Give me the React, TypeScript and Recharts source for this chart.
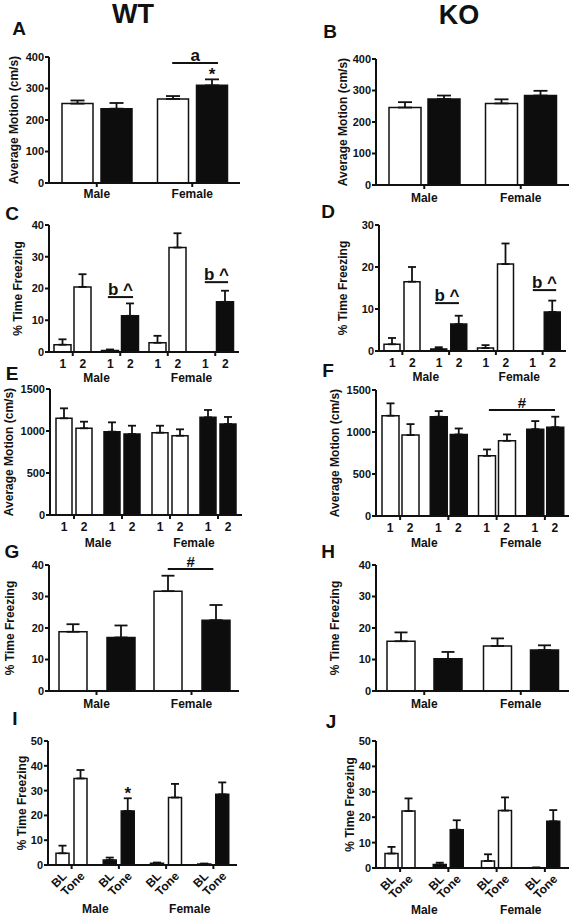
import React from "react";
import { BarChart, Bar, XAxis, YAxis, ErrorBar, Cell, LabelList, ReferenceLine } from "recharts";

const FONT = '"Liberation Sans", Arial, sans-serif';
const INK = "#111111";
const DARK = "#0d0d0d";

const sexes = ["Male", "Female"];
// 4-group panels: male open, male filled, female open, female filled
const quadGroups = ["Male open", "Male filled", "Female open", "Female filled"];
const quadColors = ["#ffffff", DARK, "#ffffff", DARK];
const sessionNames = ["1", "2"];
const phaseNames = ["BL", "Tone"];

// A - WT average motion
const aOpen = [252, 267];
const aOpenErr = [10, 9];
const aFilled = [236, 310];
const aFilledErr = [18, 19];
const aMarks = ["", "*"];

// B - KO average motion
const bOpen = [246, 259];
const bOpenErr = [17, 13];
const bFilled = [273, 284];
const bFilledErr = [11, 15];

// C - WT % freezing, sessions 1 / 2
const cFirst = [2.3, 0.5, 2.9, 0];
const cFirstErr = [1.7, 0.3, 2.2, 0];
const cSecond = [20.5, 11.4, 32.9, 15.8];
const cSecondErr = [4.0, 3.9, 4.5, 3.5];

// D - KO % freezing, sessions 1 / 2
const dFirst = [1.6, 0.5, 0.7, 0];
const dFirstErr = [1.5, 0.4, 0.7, 0];
const dSecond = [16.5, 6.4, 20.7, 9.3];
const dSecondErr = [3.5, 2.0, 4.9, 2.7];

// E - WT average motion, sessions 1 / 2
const eFirst = [1151, 992, 980, 1163];
const eFirstErr = [119, 111, 83, 87];
const eSecond = [1032, 964, 944, 1083];
const eSecondErr = [79, 99, 76, 84];

// F - KO average motion, sessions 1 / 2
const fFirst = [1194, 1182, 716, 1034];
const fFirstErr = [147, 67, 76, 96];
const fSecond = [963, 971, 895, 1058];
const fSecondErr = [131, 71, 76, 124];

// G - WT % freezing
const gOpen = [18.8, 31.7];
const gOpenErr = [2.4, 4.9];
const gFilled = [17.0, 22.5];
const gFilledErr = [3.8, 4.8];

// H - KO % freezing
const hOpen = [15.8, 14.3];
const hOpenErr = [2.8, 2.4];
const hFilled = [10.2, 13.0];
const hFilledErr = [2.2, 1.5];

// I - WT % freezing, baseline / tone
const iBaseline = [4.7, 2.0, 0.7, 0.4];
const iBaselineErr = [3.1, 1.0, 0.3, 0.2];
const iTone = [34.9, 21.8, 27.2, 28.5];
const iToneErr = [3.4, 5.1, 5.5, 4.8];
const iToneMarks = ["", "*", "", ""];

// J - KO % freezing, baseline / tone
const jBaseline = [5.7, 1.4, 2.8, 0.1];
const jBaselineErr = [2.6, 0.7, 2.6, 0.1];
const jTone = [22.4, 15.1, 22.6, 18.4];
const jToneErr = [5.0, 3.7, 5.2, 4.4];

const motionTicks = [0, 100, 200, 300, 400];
const freeze40Ticks = [0, 10, 20, 30, 40];
const freeze30Ticks = [0, 10, 20, 30];
const speedTicks = [0, 500, 1000, 1500];
const freeze50Ticks = [0, 10, 20, 30, 40, 50];

// significance bars; x runs in group units along the sex axis
type Note = { from: number; to: number; y: number; text: string };
const aNotes: Note[] = [{ from: 1.29, to: 1.77, y: 381, text: "a" }];
const cNotes: Note[] = [
  { from: 1.24, to: 1.77, y: 17.3, text: "b ^" },
  { from: 3.28, to: 3.77, y: 22, text: "b ^" },
];
const dNotes: Note[] = [
  { from: 1.2, to: 1.71, y: 11.4, text: "b ^" },
  { from: 3.29, to: 3.79, y: 14.5, text: "b ^" },
];
const fNotes: Note[] = [{ from: 2.34, to: 3.71, y: 1261, text: "#" }];
const gNotes: Note[] = [{ from: 1.25, to: 1.73, y: 38.7, text: "#" }];

const pairRows = (open: number[], openErr: number[], filled: number[], filledErr: number[], marks: string[] = []) =>
  sexes.map((name, i) => ({
    name,
    pos: i + 0.5,
    a: open[i],
    aErr: [0, openErr[i]],
    b: filled[i],
    bErr: [0, filledErr[i]],
    bMark: marks[i] || "",
  }));

const quadRows = (first: number[], firstErr: number[], second: number[], secondErr: number[], marks: string[] = []) =>
  quadGroups.map((name, i) => ({
    name,
    pos: i + 0.5,
    color: quadColors[i],
    a: first[i],
    aErr: [0, firstErr[i]],
    b: second[i],
    bErr: [0, secondErr[i]],
    bMark: marks[i] || "",
  }));

const boxOf = (lp: any) => {
  const vb = lp.viewBox && lp.viewBox.width !== undefined ? lp.viewBox : lp;
  return { x: Number(vb.x), y: Number(vb.y), w: Number(vb.width), h: Number(vb.height) };
};

const PAD_TOP = 32;
const PAD_RIGHT = 4;
const GRP_H = 20;

type PanelProps = {
  left: number;
  axisX: number;
  top: number;
  bottom: number;
  right: number;
  yMax: number;
  ticks: number[];
  yLabel: string;
  yLabelX: number;
  rows: any[];
  quad?: boolean;
  sub?: string[];
  rotated?: boolean;
  barSize: number;
  barGap: number;
  cap: number;
  catHeight: number;
  tickGap: number;
  notes?: Note[];
};

function Panel(p: PanelProps) {
  const groupsN = p.quad ? 4 : 2;
  const grpH = p.quad ? GRP_H : 0;
  const width = p.right - p.left + PAD_RIGHT;
  const height = p.bottom - p.top + PAD_TOP + p.catHeight + grpH;
  const axisLine = { stroke: INK, strokeWidth: 2 };
  const tickText = { fill: INK, fontSize: 11, fontWeight: 700 };
  const groupText = { fill: INK, fontSize: 12, fontWeight: 700 };

  // "1 2" / "BL Tone" under each bar of a group tick
  const subTick = (tp: any) => {
    const half = (p.barSize + p.barGap) / 2;
    return (
      <g>
        {(p.sub || []).map((text, k) => {
          const cx = tp.x + (k === 0 ? -half : half);
          if (p.rotated) {
            const ax = cx + 2;
            const ay = tp.y + 2;
            return (
              <text key={k} x={ax} y={ay} textAnchor="end" dominantBaseline="central" transform={`rotate(-45 ${ax} ${ay})`} style={groupText}>
                {text}
              </text>
            );
          }
          return (
            <text key={k} x={cx} y={tp.y} dy="0.71em" textAnchor="middle" style={groupText}>
              {text}
            </text>
          );
        })}
      </g>
    );
  };

  const markLabel = (lp: any) => {
    const row = lp.value;
    if (!row || !row.bMark) return null;
    const b = boxOf(lp);
    const errPx = row.b ? (b.h * row.bErr[1]) / row.b : 0;
    return (
      <text x={b.x + b.w / 2} y={b.y - errPx + 1} textAnchor="middle" style={{ fill: INK, fontSize: 17, fontWeight: 700 }}>
        {row.bMark}
      </text>
    );
  };

  const errProps = { width: p.cap, stroke: INK, strokeWidth: 1.8, direction: "y" as const };

  return (
    <div style={{ position: "absolute", left: p.left, top: p.top - PAD_TOP }}>
      <BarChart
        width={width}
        height={height}
        data={p.rows}
        margin={{ top: PAD_TOP, right: PAD_RIGHT, left: 0, bottom: 0 }}
        barSize={p.barSize}
        barGap={p.barGap}
      >
        <XAxis
          xAxisId="cat"
          dataKey="name"
          height={p.catHeight}
          axisLine={axisLine}
          tickLine={axisLine}
          tickSize={4}
          tickMargin={p.tickGap}
          interval={0}
          tick={p.quad ? subTick : groupText}
        />
        <XAxis
          xAxisId="grp"
          dataKey="pos"
          type="number"
          domain={[0, groupsN]}
          ticks={p.quad ? [1, 3] : [1]}
          hide={!p.quad}
          height={grpH}
          axisLine={false}
          tickLine={false}
          tickSize={0}
          tickMargin={p.tickGap}
          tick={groupText}
          tickFormatter={(v: number) => sexes[Math.floor(v / 2)]}
          allowDataOverflow
        />
        <YAxis
          domain={[0, p.yMax]}
          ticks={p.ticks}
          interval={0}
          width={p.axisX - p.left}
          axisLine={axisLine}
          tickLine={axisLine}
          tickSize={4}
          tickMargin={1}
          tick={tickText}
          allowDataOverflow
          label={{
            value: p.yLabel,
            angle: -90,
            position: "insideLeft",
            offset: p.yLabelX - p.left,
            style: { textAnchor: "middle", fill: INK, fontSize: 12, fontWeight: 700 },
          }}
        />
        <Bar xAxisId="cat" dataKey="a" fill="#ffffff" stroke={INK} strokeWidth={1.5} isAnimationActive={false}>
          {p.quad && p.rows.map((r) => <Cell key={r.name} fill={r.color} />)}
          <ErrorBar dataKey="aErr" {...errProps} />
        </Bar>
        <Bar xAxisId="cat" dataKey="b" fill={DARK} stroke={INK} strokeWidth={1.5} isAnimationActive={false}>
          {p.quad && p.rows.map((r) => <Cell key={r.name} fill={r.color} />)}
          <ErrorBar dataKey="bErr" {...errProps} />
          <LabelList dataKey={(r: any) => r} content={markLabel} />
        </Bar>
        {(p.notes || []).map((n, i) => (
          <ReferenceLine
            key={i}
            xAxisId="grp"
            segment={[
              { x: n.from, y: n.y },
              { x: n.to, y: n.y },
            ]}
            stroke={INK}
            strokeWidth={2}
            ifOverflow="visible"
            label={{
              value: n.text,
              position: "top",
              offset: 2,
              fill: INK,
              fontSize: n.text === "#" ? 15 : 17,
              fontWeight: 700,
            }}
          />
        ))}
      </BarChart>
    </div>
  );
}

const tag = (text: string, x: number, y: number, size: number) => (
  <div
    key={text}
    style={{
      position: "absolute",
      left: x,
      top: y,
      transform: "translate(-50%, -50%)",
      fontSize: size,
      fontWeight: 700,
      color: INK,
      lineHeight: 1,
      whiteSpace: "nowrap",
    }}
  >
    {text}
  </div>
);

export default function App() {
  return (
    <div
      style={{
        position: "absolute",
        left: 0,
        top: 0,
        width: 573,
        height: 917,
        overflow: "hidden",
        background: "#ffffff",
        fontFamily: FONT,
      }}
    >
      <Panel left={0} axisX={49} top={57} bottom={183} right={240} yMax={400} ticks={motionTicks}
        yLabel="Average Motion (cm/s)" yLabelX={14} rows={pairRows(aOpen, aOpenErr, aFilled, aFilledErr, aMarks)}
        barSize={31} barGap={8} cap={7} catHeight={20} tickGap={2} notes={aNotes} />
      <Panel left={286} axisX={376} top={59} bottom={185} right={569} yMax={400} ticks={motionTicks}
        yLabel="Average Motion (cm/s)" yLabelX={343} rows={pairRows(bOpen, bOpenErr, bFilled, bFilledErr)}
        barSize={32} barGap={7} cap={7} catHeight={20} tickGap={4} />

      <Panel left={0} axisX={49} top={225} bottom={352} right={239} yMax={40} ticks={freeze40Ticks}
        yLabel="% Time Freezing" yLabelX={18} rows={quadRows(cFirst, cFirstErr, cSecond, cSecondErr)}
        quad sub={sessionNames} barSize={17} barGap={3} cap={4} catHeight={18} tickGap={3} notes={cNotes} />
      <Panel left={286} axisX={379} top={225} bottom={351} right={566} yMax={30} ticks={freeze30Ticks}
        yLabel="% Time Freezing" yLabelX={343} rows={quadRows(dFirst, dFirstErr, dSecond, dSecondErr)}
        quad sub={sessionNames} barSize={16} barGap={4} cap={4} catHeight={18} tickGap={3} notes={dNotes} />

      <Panel left={0} axisX={50} top={389} bottom={515} right={242} yMax={1500} ticks={speedTicks}
        yLabel="Average Motion (cm/s)" yLabelX={9} rows={quadRows(eFirst, eFirstErr, eSecond, eSecondErr)}
        quad sub={sessionNames} barSize={16} barGap={4} cap={4} catHeight={20} tickGap={3} />
      <Panel left={286} axisX={376} top={390} bottom={516} right={569} yMax={1500} ticks={speedTicks}
        yLabel="Average Motion (cm/s)" yLabelX={335} rows={quadRows(fFirst, fFirstErr, fSecond, fSecondErr)}
        quad sub={sessionNames} barSize={17} barGap={3} cap={4} catHeight={19} tickGap={3} notes={fNotes} />

      <Panel left={0} axisX={49} top={565} bottom={691} right={239} yMax={40} ticks={freeze40Ticks}
        yLabel="% Time Freezing" yLabelX={10} rows={pairRows(gOpen, gOpenErr, gFilled, gFilledErr)}
        barSize={28} barGap={20} cap={6.5} catHeight={20} tickGap={4} notes={gNotes} />
      <Panel left={286} axisX={376} top={565} bottom={691} right={569} yMax={40} ticks={freeze40Ticks}
        yLabel="% Time Freezing" yLabelX={335} rows={pairRows(hOpen, hOpenErr, hFilled, hFilledErr)}
        barSize={28} barGap={19} cap={6.5} catHeight={20} tickGap={4} />

      <Panel left={0} axisX={48} top={741} bottom={865} right={237} yMax={50} ticks={freeze50Ticks}
        yLabel="% Time Freezing" yLabelX={22} rows={quadRows(iBaseline, iBaselineErr, iTone, iToneErr, iToneMarks)}
        quad sub={phaseNames} rotated barSize={13} barGap={5} cap={4} catHeight={36} tickGap={3} />
      <Panel left={286} axisX={376} top={741} bottom={868} right={569} yMax={50} ticks={freeze50Ticks}
        yLabel="% Time Freezing" yLabelX={350} rows={quadRows(jBaseline, jBaselineErr, jTone, jToneErr)}
        quad sub={phaseNames} rotated barSize={13} barGap={4} cap={4} catHeight={34} tickGap={3} />

      {tag("WT", 133, 14, 27)}
      {tag("KO", 459, 15, 27)}
      {tag("A", 19, 28, 19)}
      {tag("B", 330, 31, 19)}
      {tag("C", 12, 213, 19)}
      {tag("D", 328, 211, 19)}
      {tag("E", 12, 373, 19)}
      {tag("F", 328, 370, 19)}
      {tag("G", 12, 551, 19)}
      {tag("H", 328, 551, 19)}
      {tag("I", 15, 718, 19)}
      {tag("J", 331, 721, 19)}
    </div>
  );
}
